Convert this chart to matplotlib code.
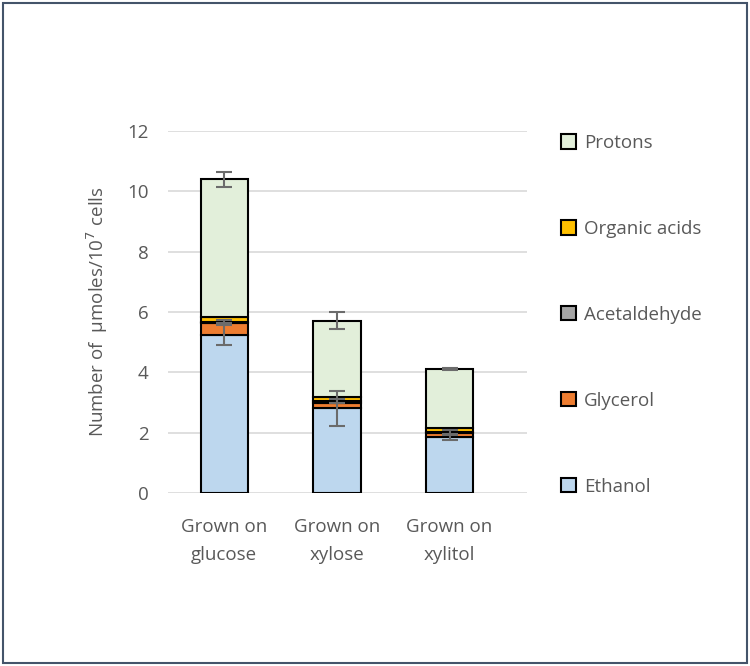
import numpy as np
import matplotlib
matplotlib.use("Agg")
import matplotlib.pyplot as plt
from matplotlib.patches import Rectangle

# valores (µmoles / 10^7 células)
categorias = ["Grown on\nglucose", "Grown on\nxylose", "Grown on\nxylitol"]
series = ["Ethanol", "Glycerol", "Acetaldehyde", "Organic acids", "Protons"]
ethanol = [5.23, 2.80, 1.85]
glycerol = [0.41, 0.19, 0.13]
acetaldehyde = [0.03, 0.05, 0.03]
organic_acids = [0.17, 0.15, 0.15]
protons = [4.56, 2.52, 1.94]
err_ethanol = [0.34, 0.57, 0.10]
err_acetaldehyde = [0.05, 0.06, 0.08]
err_protons = [0.25, 0.27, 0.04]

cores = ["#BDD7EE", "#ED7D31", "#A5A5A5", "#FFC000", "#E2EFDA"]
texto = "#595959"

plt.rcParams['font.family'] = ['Open Sans', 'DejaVu Sans']

fig = plt.figure(figsize=(7.5, 6.66), dpi=100)
ax = fig.add_axes([0.224, 0.26, 0.479, 0.5435])

x = np.arange(len(categorias))
largura = 0.42
valores = [ethanol, glycerol, acetaldehyde, organic_acids, protons]
erros = [err_ethanol, None, err_acetaldehyde, None, err_protons]

base = np.zeros(len(categorias))
handles = []
for nome, vals, cor, err in zip(series, valores, cores, erros):
    b = ax.bar(x, vals, largura, bottom=base, color=cor, edgecolor="black",
               linewidth=1.5, label=nome, zorder=2)
    handles.append(b)
    topo = base + np.array(vals)
    if err is not None:
        ax.errorbar(x, topo, yerr=err, fmt="none", ecolor="#6b6b6b",
                    elinewidth=1.5, capsize=6, capthick=1.5, zorder=4)
    base = topo

ax.set_ylim(0, 12)
ax.set_yticks(np.arange(0, 13, 2))
ax.set_xlim(-0.5, 2.69)
ax.set_xticks(x)
ax.set_xticklabels(categorias, linespacing=1.7)
ax.tick_params(axis="both", length=0, labelsize=13.5, colors=texto)
ax.tick_params(axis="x", pad=18)
ax.tick_params(axis="y", pad=14)
ax.yaxis.grid(True, color="#d9d9d9", linewidth=1.2, zorder=0)
ax.set_axisbelow(True)
for s in ax.spines.values():
    s.set_visible(False)

ax.set_ylabel("Number of  µmoles/10$^7$ cells", fontsize=13.5, color=texto,
              labelpad=12)

leg = fig.legend(handles[::-1], series[::-1], loc="upper left",
                 bbox_to_anchor=(0.731, 0.8185), frameon=False, fontsize=13.5,
                 labelspacing=3.62, handlelength=0.8, handleheight=0.8,
                 handletextpad=0.4, borderpad=0.2)
for t in leg.get_texts():
    t.set_color(texto)

fig.patches.append(Rectangle((0.004, 0.004), 0.992, 0.992, transform=fig.transFigure,
                             fill=False, edgecolor="#44546A", linewidth=1.5))

fig.savefig("out.png", dpi=100)
